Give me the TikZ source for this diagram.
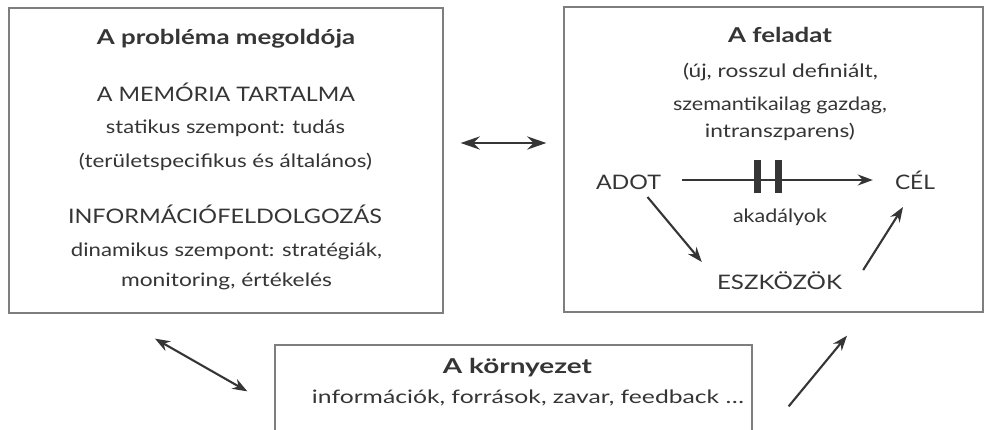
\documentclass[tikz,border=0pt]{standalone}
\usepackage{fontspec}
\usepackage{graphicx}
\setmainfont{Lato}
\usetikzlibrary{arrows.meta,calc}
\definecolor{ink}{HTML}{353535}
\definecolor{frame}{HTML}{7E7E7E}
\newcommand\fitw[2]{\resizebox{#1}{\height}{#2}}
\begin{document}
\begin{tikzpicture}[x=1pt,y=-1pt,
  box/.style={draw=frame,line width=1.3pt,inner sep=0pt},
  txt/.style={text=ink,font=\fontsize{18.5}{22}\selectfont,inner sep=0pt,anchor=base},
  caps/.style={text=ink,font=\fontsize{20}{24}\selectfont,inner sep=0pt,anchor=base},
  ttl/.style={text=ink,font=\bfseries\fontsize{20.5}{24}\selectfont,inner sep=0pt,anchor=base},
  barmark/.style={fill=ink,inner sep=0pt,minimum width=7.5pt,minimum height=33pt},
  arr/.style={draw=ink,line width=2.1pt,-{Stealth[length=15pt,width=11pt]}},
  dbl/.style={draw=ink,line width=2.1pt,{Stealth[length=15pt,width=11pt]}-{Stealth[length=15pt,width=11pt]}},
  bigdbl/.style={draw=ink,line width=2.6pt,{Stealth[length=19pt,width=13pt]}-{Stealth[length=19pt,width=13pt]}}]
\fill[white] (0,0) rectangle (986,429);
\clip (0,0) rectangle (986,429);
% boxes
\node[box,minimum width=434pt,minimum height=305pt] (solver) at (226,160.5) {};
\node[box,minimum width=419pt,minimum height=305pt] (task) at (773.5,159.5) {};
\node[box,minimum width=477pt,minimum height=130pt] (env) at (513.5,410) {};
% left box text
\node[ttl] (t1) at (226,44) {\fitw{258pt}{A probléma megoldója}};
\node[caps] (m1) at (226,101) {\fitw{258pt}{A MEMÓRIA TARTALMA}};
\node[txt] (m2) at (225.5,133) {\fitw{239pt}{statikus szempont: tudás}};
\node[txt] (m3) at (225.5,167) {\fitw{293pt}{(területspecifikus és általános)}};
\node[caps] (i1) at (225,223) {\fitw{314pt}{INFORMÁCIÓFELDOLGOZÁS}};
\node[txt] (i2) at (226.5,256) {\fitw{311pt}{dinamikus szempont: stratégiák,}};
\node[txt] (i3) at (226.5,286) {\fitw{211pt}{monitoring, értékelés}};
% right box text
\node[ttl] (t2) at (780,42) {\fitw{104pt}{A feladat}};
\node[txt] (f1) at (780.5,77) {\fitw{195pt}{(új, rosszul definiált,}};
\node[txt] (f2) at (780,110) {\fitw{214pt}{szemantikailag gazdag,}};
\node[txt] (f3) at (780,137) {\fitw{150pt}{intranszparens)}};
\node[caps] (adot) at (628.5,189) {\fitw{65pt}{ADOT}};
\node[caps] (cel) at (915,189) {\fitw{40pt}{CÉL}};
\node[txt] (akad) at (780,222) {\fitw{94pt}{akadályok}};
\node[caps] (esz) at (779.5,289) {\fitw{125pt}{ESZKÖZÖK}};
\node[barmark] (b1) at (757.5,176.5) {};
\node[barmark] (b2) at (778.5,176.5) {};
% bottom box text
\node[ttl] (t3) at (517.5,373) {\fitw{149pt}{A környezet}};
\node[txt] (e1) at (528,403) {\fitw{432pt}{információk, források, zavar, feedback …}};
% arrows inside task
\draw[arr] ($(adot.base east)+(21,-9)$) -- ($(cel.base west)+(-22,-9)$);
\draw[arr] ($(adot.base)+(19,8)$) -- ($(esz.base west)+(-15,-27)$);
\draw[arr] ($(esz.base east)+(21,-19)$) -- ($(cel.base)+(-12,18)$);
% arrows between boxes
\draw[bigdbl] ($(solver.east)+(17,-17.5)$) -- ($(task.west)+(-17,-16.5)$);
\draw[dbl] ($(solver.south)+(-71,25)$) -- ($(env.north west)+(-27,47)$);
\draw[arr] ($(env.north east)+(36,62)$) -- ($(task.south)+(73.5,23)$);
\end{tikzpicture}
\end{document}
